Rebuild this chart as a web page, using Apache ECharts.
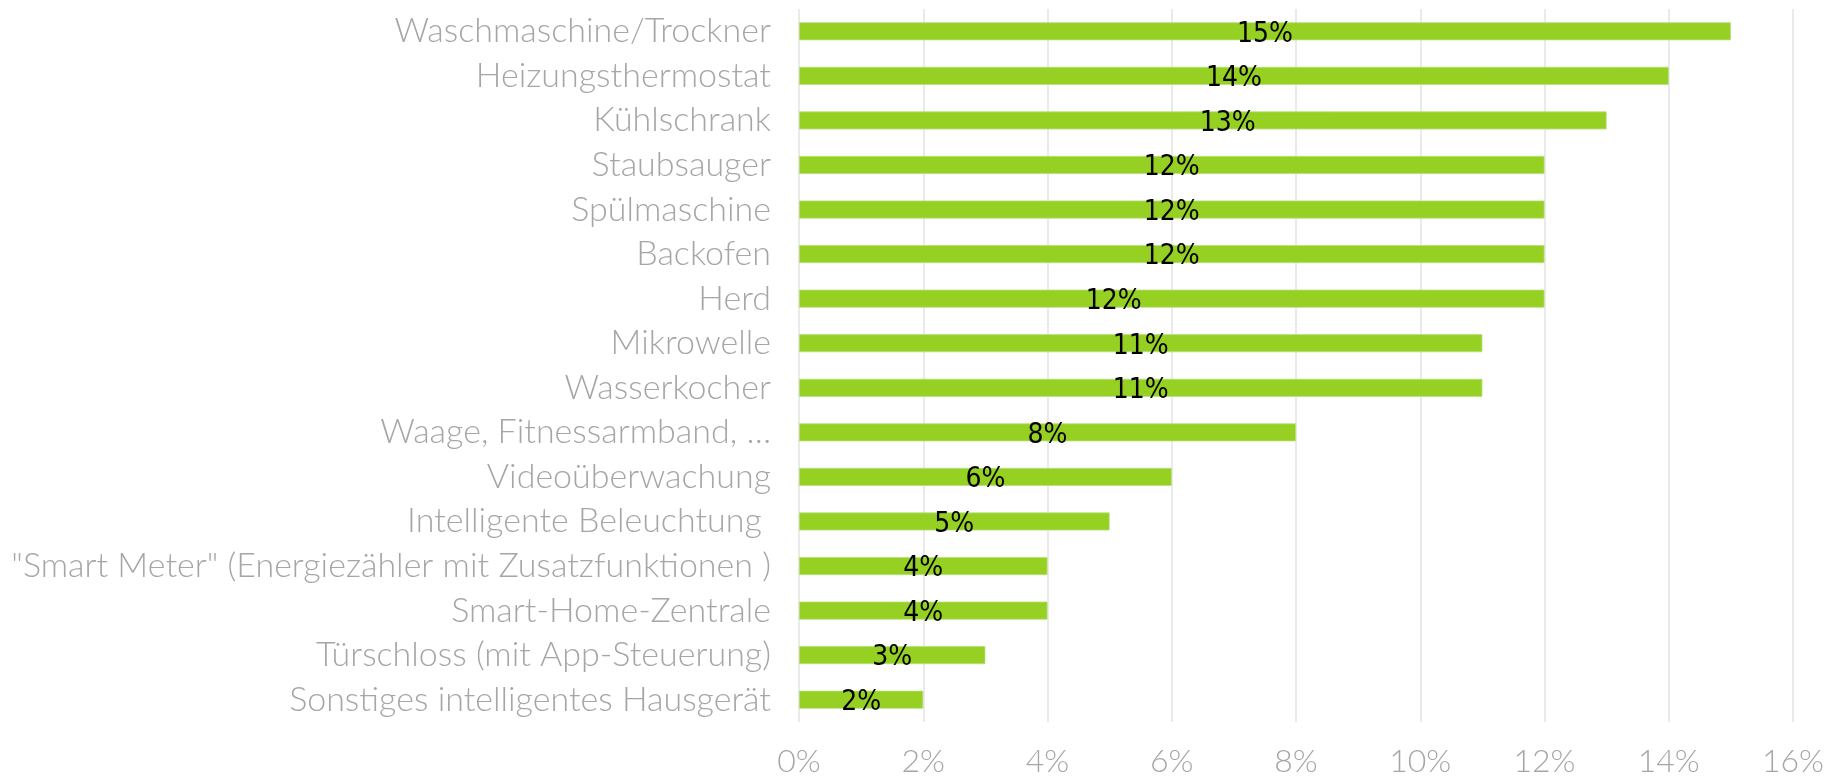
<!DOCTYPE html>
<html>
<head>
<meta charset="utf-8">
<title>Smart-Home-Geräte</title>
<script src="https://cdn.jsdelivr.net/npm/echarts@6/dist/echarts.min.js"></script>
<style>
  html, body { margin: 0; padding: 0; background: #fff; }
  #chart { width: 1839px; height: 778px; }
</style>
</head>
<body>
<div id="chart"></div>
<script>
// Kategorien von oben nach unten
var categories = [
  "Waschmaschine/Trockner",
  "Heizungsthermostat",
  "Kühlschrank",
  "Staubsauger",
  "Spülmaschine",
  "Backofen",
  "Herd",
  "Mikrowelle",
  "Wasserkocher",
  "Waage, Fitnessarmband, …",
  "Videoüberwachung",
  "Intelligente Beleuchtung ",
  "\"Smart Meter\" (Energiezähler mit Zusatzfunktionen )",
  "Smart-Home-Zentrale",
  "Türschloss (mit App-Steuerung)",
  "Sonstiges intelligentes Hausgerät"
];
// Anteile in %
var values = [15, 14, 13, 12, 12, 12, 12, 11, 11, 8, 6, 5, 4, 4, 3, 2];
var ticks = [0, 2, 4, 6, 8, 10, 12, 14, 16];

// einzelne Beschriftungen sind im Original verschoben
var labelNudge = { "Kühlschrank": 25, "Herd": -58 };

var chart = echarts.init(document.getElementById("chart"));

var seriesData = values.map(function (v, i) {
  var dx = labelNudge[categories[i]] || 0;
  return { value: v, label: { offset: [dx, 3] } };
});

var option = {
  animation: false,
  grid: { left: 799, right: 46, top: 9, bottom: 55, containLabel: false },
  xAxis: {
    type: "value",
    min: ticks[0],
    max: ticks[ticks.length - 1],
    interval: 2,
    axisLine: { show: false },
    axisTick: { show: false },
    splitLine: { show: true, lineStyle: { color: "#e3e3e3", width: 1.5 } },
    axisLabel: {
      margin: 24,
      color: "#a6a6a6",
      fontFamily: "Lato",
      fontWeight: 300,
      fontSize: 32,
      formatter: function (v) { return v + "%"; }
    }
  },
  yAxis: {
    type: "category",
    inverse: true,
    data: categories,
    axisLine: { show: false },
    axisTick: { show: false },
    splitLine: { show: false },
    axisLabel: {
      margin: 28,
      color: "#a6a6a6",
      fontFamily: "Lato",
      fontWeight: 300,
      fontSize: 34
    }
  },
  series: [{
    type: "bar",
    data: seriesData,
    barWidth: 18,
    itemStyle: { color: "#95d023", borderColor: "#b8e07a", borderWidth: 0.8 },
    label: {
      show: true,
      position: "inside",
      color: "#000",
      fontFamily: "DejaVu Sans Condensed, sans-serif",
      fontSize: 28,
      formatter: function (p) { return p.value + "%"; }
    }
  }]
};

chart.setOption(option);
window.addEventListener("resize", chart.resize);
</script>
</body>
</html>
